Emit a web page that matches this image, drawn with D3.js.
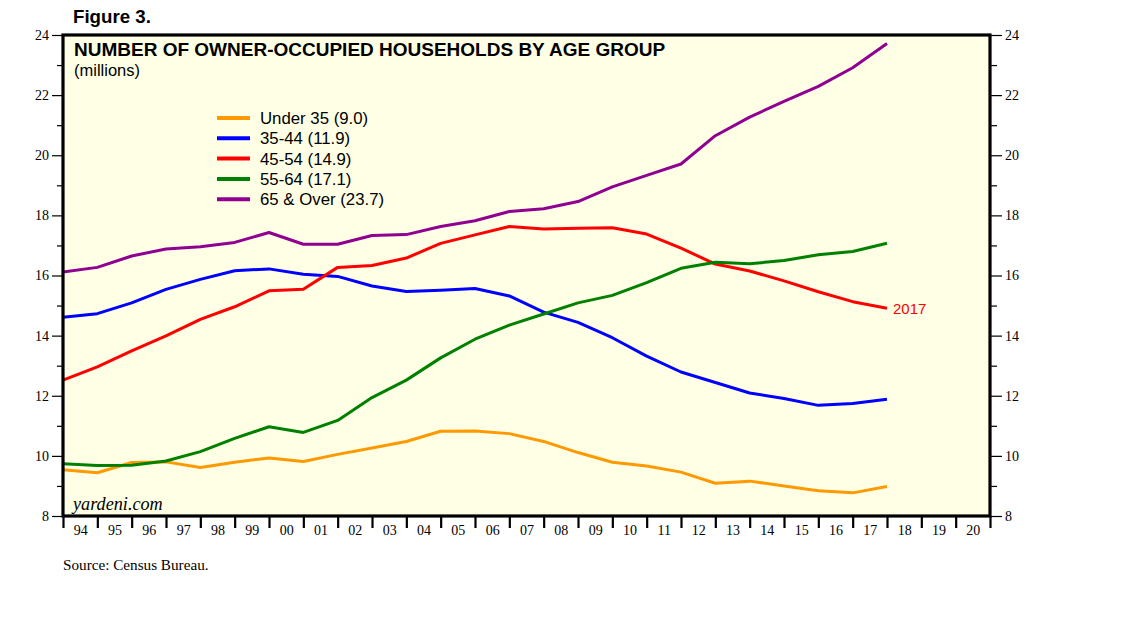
<!DOCTYPE html>
<html>
<head>
<meta charset="utf-8">
<script src="https://cdn.jsdelivr.net/npm/d3@7"></script>
<style>
  body { margin: 0; background: #fff; }
  svg text { fill: #000; }
</style>
</head>
<body>
<div id="chart"></div>
<script>
// data, annual values (millions)
const years = d3.range(1993, 2018);
const under35 = [9.54, 9.44, 9.78, 9.80, 9.61, 9.79, 9.93, 9.81, 10.05, 10.26, 10.48, 10.82, 10.83, 10.74, 10.48, 10.11, 9.79, 9.66, 9.46, 9.09, 9.16, 9.0, 8.84, 8.77, 8.98];
const age3544 = [14.61, 14.73, 15.09, 15.54, 15.87, 16.16, 16.22, 16.04, 15.97, 15.65, 15.47, 15.51, 15.57, 15.32, 14.78, 14.44, 13.93, 13.32, 12.79, 12.44, 12.09, 11.91, 11.68, 11.74, 11.88];
const age4554 = [12.52, 12.96, 13.49, 13.99, 14.54, 14.96, 15.49, 15.54, 16.27, 16.33, 16.58, 17.07, 17.35, 17.63, 17.55, 17.57, 17.59, 17.38, 16.91, 16.38, 16.15, 15.82, 15.46, 15.13, 14.91];
const age5564 = [9.74, 9.68, 9.69, 9.83, 10.14, 10.58, 10.97, 10.78, 11.18, 11.94, 12.52, 13.26, 13.88, 14.35, 14.72, 15.09, 15.34, 15.76, 16.24, 16.44, 16.39, 16.5, 16.69, 16.8, 17.07];
const over65 = [16.12, 16.27, 16.65, 16.88, 16.96, 17.1, 17.43, 17.04, 17.04, 17.33, 17.36, 17.63, 17.82, 18.13, 18.22, 18.46, 18.95, 19.33, 19.71, 20.65, 21.27, 21.79, 22.29, 22.91, 23.72];

const seriesNames = ["Under 35 (9.0)", "35-44 (11.9)", "45-54 (14.9)", "55-64 (17.1)", "65 & Over (23.7)"];
const seriesColors = ["#ff9900", "#0000ff", "#ff0000", "#008000", "#900090"];
const seriesValues = [under35, age3544, age4554, age5564, over65];

const axisYears = d3.range(1994, 2021);   // labels 94 .. 20
const majorY = d3.range(8, 25, 2);
const minorY = d3.range(9, 24, 2);

//set up svg
const width = 1138, height = 621;
const m = {left: 63, right: 990, top: 35, bottom: 516};

const svg = d3.select("#chart")
    .append("svg")
    .attr("width", width)
    .attr("height", height);

const x = d3.scaleLinear().domain([1994, 2021]).range([m.left, m.right]);
const y = d3.scaleLinear().domain([8, 24]).range([m.bottom, m.top]);

// plot background
svg.append("rect")
    .attr("x", m.left).attr("y", m.top)
    .attr("width", m.right - m.left).attr("height", m.bottom - m.top)
    .attr("fill", "#ffffe6");

// y axes, left and right
function yAxis(g, gen, values, size, labels) {
  g.call(gen(y).tickValues(values).tickSize(size).tickPadding(3)
      .tickFormat(labels ? d3.format("d") : ""));
  g.select(".domain").remove();
  g.selectAll("line").attr("stroke", "#000").attr("stroke-width", 1.2);
  g.selectAll("text").style("font", "14px 'Liberation Serif'");
}
svg.append("g").attr("transform", `translate(${m.left},0)`)
    .call(yAxis, d3.axisLeft, majorY, 11, true);
svg.append("g").attr("transform", `translate(${m.left},0)`)
    .call(yAxis, d3.axisLeft, minorY, 6, false);
svg.append("g").attr("transform", `translate(${m.right},0)`)
    .call(yAxis, d3.axisRight, majorY, 12, true);
svg.append("g").attr("transform", `translate(${m.right},0)`)
    .call(yAxis, d3.axisRight, minorY, 7, false);

// x axis: ticks at year boundaries, labels mid-year
const xTicks = svg.append("g").attr("transform", `translate(0,${m.bottom})`)
    .call(d3.axisBottom(x).tickValues(d3.range(1994, 2022)).tickSize(12).tickFormat(""));
xTicks.select(".domain").remove();
xTicks.selectAll("line").attr("stroke", "#000").attr("stroke-width", 2.2);

const xLabels = svg.append("g").attr("transform", `translate(0,${m.bottom})`)
    .call(d3.axisBottom(x).tickValues(axisYears.map(d => d + 0.5)).tickSize(0).tickPadding(9)
      .tickFormat(d => d3.format("02d")(Math.floor(d) % 100)));
xLabels.select(".domain").remove();
xLabels.selectAll("text").style("font", "14px 'Liberation Serif'");

// lines
const line = d3.line()
    .x((d, i) => x(years[i] + 1))
    .y(d => y(d));

svg.append("g")
    .selectAll("path")
    .data(seriesValues)
    .enter()
    .append("path")
    .attr("d", line)
    .attr("fill", "none")
    .attr("stroke", (d, i) => seriesColors[i])
    .attr("stroke-width", 3)
    .attr("stroke-linejoin", "round");

// frame
svg.append("rect")
    .attr("x", m.left).attr("y", m.top)
    .attr("width", m.right - m.left).attr("height", m.bottom - m.top)
    .attr("fill", "none")
    .attr("stroke", "#000")
    .attr("stroke-width", 3.2);

// legend
const legend = svg.append("g")
    .selectAll("g")
    .data(seriesNames)
    .enter()
    .append("g")
    .attr("transform", (d, i) => `translate(217,${118 + i * 20.3})`);
legend.append("line")
    .attr("x1", 0).attr("x2", 33)
    .attr("stroke", (d, i) => seriesColors[i])
    .attr("stroke-width", 4);
legend.append("text")
    .attr("x", 43).attr("dy", "0.36em")
    .style("font", "16.8px 'Liberation Sans'")
    .text(d => d);

// end label
svg.append("text")
    .attr("x", x(years[years.length - 1] + 1) + 6)
    .attr("y", y(age4554[age4554.length - 1]))
    .attr("dy", "0.36em")
    .style("font", "15px 'Liberation Sans'")
    .style("fill", "#ff0000")
    .text("2017");

// titles and notes
svg.append("text").attr("x", 73).attr("y", 23)
    .style("font", "bold 18.7px 'Liberation Sans'")
    .text("Figure 3.");
svg.append("text").attr("x", 74).attr("y", 56)
    .style("font", "bold 19px 'Liberation Sans'")
    .text("NUMBER OF OWNER-OCCUPIED HOUSEHOLDS BY AGE GROUP");
svg.append("text").attr("x", 74).attr("y", 76)
    .style("font", "16.5px 'Liberation Sans'")
    .text("(millions)");
svg.append("text").attr("x", 73).attr("y", 510)
    .style("font", "italic 18.2px 'Liberation Serif'")
    .text("yardeni.com");
svg.append("text").attr("x", 63).attr("y", 570)
    .style("font", "15.2px 'Liberation Serif'")
    .text("Source: Census Bureau.");
</script>
</body>
</html>
